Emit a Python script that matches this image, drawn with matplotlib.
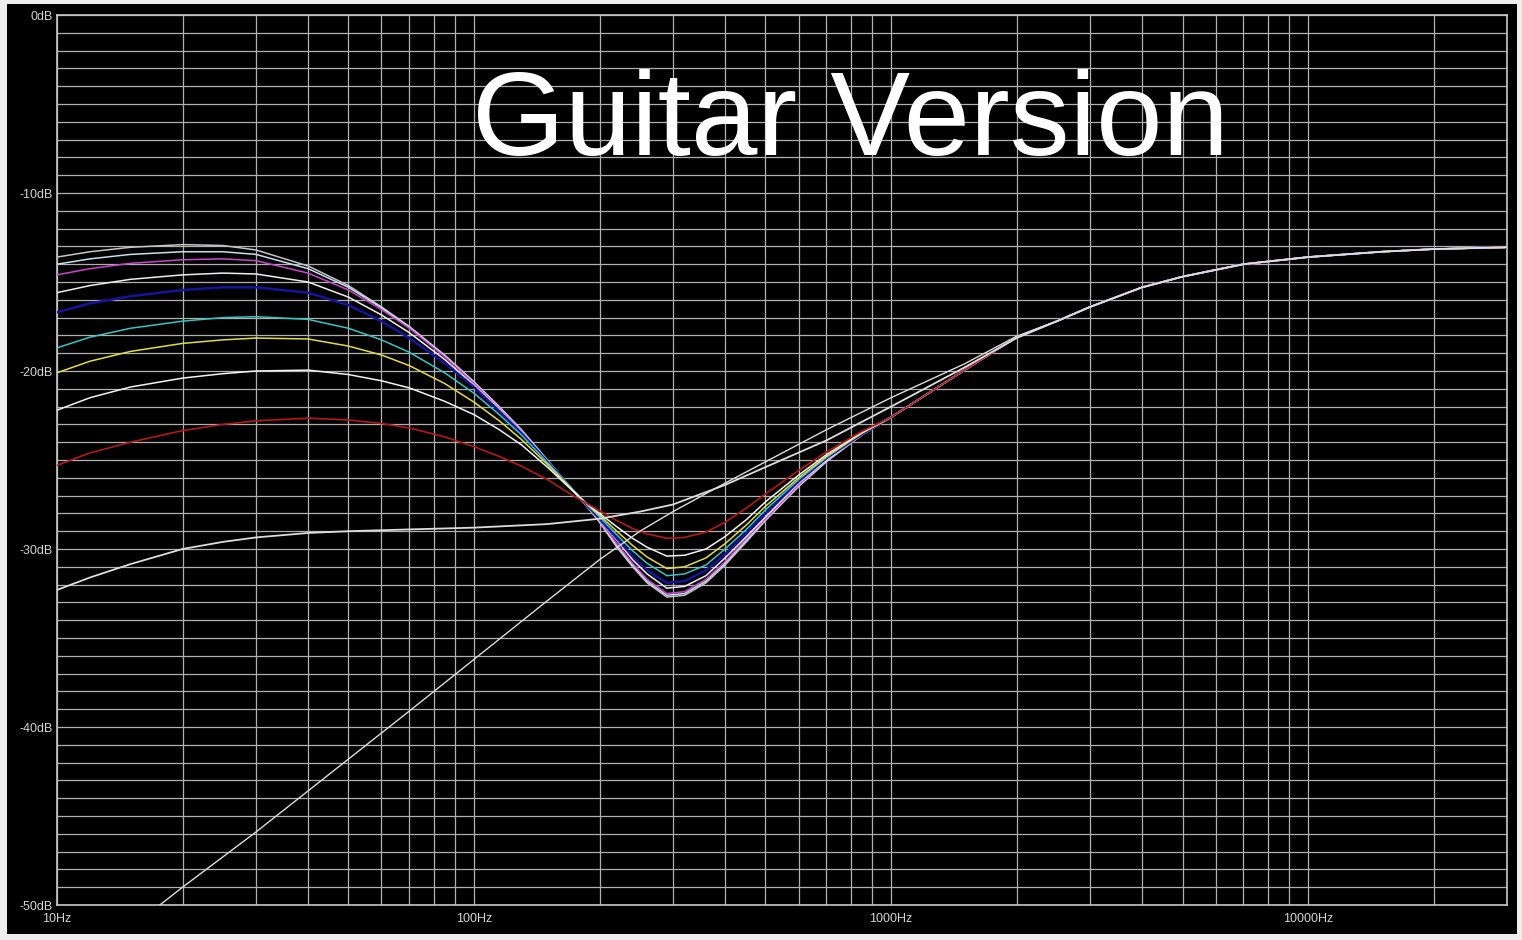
import matplotlib
matplotlib.use("Agg")
import matplotlib.pyplot as plt
from matplotlib.patches import Rectangle
from matplotlib.ticker import LogLocator, FixedLocator, NullFormatter

# frequency points (Hz), low/mid part of the pot sweep
freqs = [10, 12, 15, 20, 25, 30, 40, 50, 60, 70, 85, 100, 115, 130, 150, 170,
         185, 200, 220, 240, 260, 290, 320, 360, 400, 450, 500, 600, 700, 850]

# shared top end (1 kHz and up), all curves sit on it
high_freqs = [1000, 1500, 2000, 2500, 3000, 4000, 5000, 7000, 10000, 15000,
              20000, 30000]
high_db = [-22.6, -19.95, -18.1, -17.2, -16.4, -15.3, -14.7, -14.0, -13.6,
           -13.3, -13.15, -13.05]

sweep_grey = [-13.6, -13.3, -13.05, -12.9, -12.95, -13.2, -14.1, -15.2, -16.4, -17.5,
              -19.1, -20.6, -22.0, -23.3, -25.0, -26.5, -27.5, -28.5, -29.9, -31.0,
              -31.9, -32.7, -32.6, -31.9, -30.9, -29.6, -28.4, -26.5, -25.1, -23.6]
sweep_pale = [-14.0, -13.7, -13.45, -13.3, -13.3, -13.45, -14.25, -15.3, -16.45, -17.55,
              -19.15, -20.65, -22.05, -23.35, -25.05, -26.5, -27.5, -28.45, -29.8, -30.9,
              -31.8, -32.6, -32.5, -31.8, -30.8, -29.5, -28.35, -26.45, -25.05, -23.6]
sweep_magenta = [-14.6, -14.25, -13.95, -13.75, -13.7, -13.8, -14.5, -15.45, -16.55, -17.6,
                 -19.2, -20.7, -22.1, -23.4, -25.1, -26.5, -27.5, -28.4, -29.7, -30.8,
                 -31.7, -32.5, -32.4, -31.7, -30.7, -29.4, -28.3, -26.4, -25.0, -23.6]
sweep_white1 = [-15.6, -15.2, -14.85, -14.6, -14.5, -14.55, -15.0, -15.85, -16.85, -17.85,
                -19.35, -20.8, -22.15, -23.45, -25.1, -26.5, -27.5, -28.35, -29.5, -30.6,
                -31.4, -32.2, -32.1, -31.5, -30.5, -29.3, -28.2, -26.3, -25.0, -23.55]
sweep_blue = [-16.7, -16.2, -15.8, -15.45, -15.3, -15.3, -15.6, -16.3, -17.2, -18.15,
              -19.55, -20.9, -22.25, -23.5, -25.1, -26.5, -27.45, -28.3, -29.4, -30.4,
              -31.2, -31.9, -31.8, -31.2, -30.3, -29.1, -28.0, -26.2, -24.9, -23.55]
sweep_cyan = [-18.7, -18.1, -17.6, -17.2, -17.0, -16.95, -17.1, -17.6, -18.25, -18.95,
              -20.1, -21.25, -22.45, -23.6, -25.15, -26.5, -27.4, -28.2, -29.2, -30.1,
              -30.8, -31.5, -31.4, -30.9, -30.0, -28.9, -27.8, -26.1, -24.85, -23.5]
sweep_yellow = [-20.1, -19.45, -18.9, -18.45, -18.25, -18.15, -18.2, -18.6, -19.1, -19.7,
                -20.7, -21.75, -22.8, -23.85, -25.25, -26.55, -27.4, -28.1, -29.0, -29.8,
                -30.45, -31.1, -31.0, -30.5, -29.7, -28.65, -27.6, -26.0, -24.8, -23.5]
sweep_white2 = [-22.2, -21.5, -20.9, -20.4, -20.15, -20.0, -19.95, -20.2, -20.55, -20.95,
                -21.7, -22.45, -23.3, -24.15, -25.4, -26.6, -27.4, -28.0, -28.75, -29.4,
                -29.9, -30.4, -30.35, -30.0, -29.3, -28.35, -27.35, -25.85, -24.7, -23.45]
sweep_red = [-25.3, -24.6, -24.0, -23.35, -23.0, -22.8, -22.65, -22.75, -22.95, -23.2,
             -23.7, -24.25, -24.8, -25.35, -26.1, -26.9, -27.4, -27.85, -28.4, -28.85,
             -29.15, -29.4, -29.35, -29.05, -28.5, -27.7, -26.9, -25.6, -24.55, -23.4]

sweeps = [
    (sweep_grey, "#c4c4c4", 1.1),
    (sweep_pale, "#c4e0ea", 1.1),
    (sweep_magenta, "#cc44cc", 1.1),
    (sweep_white1, "#eeeeee", 1.1),
    (sweep_blue, "#14149c", 1.8),
    (sweep_cyan, "#36c4c4", 1.1),
    (sweep_yellow, "#e4dc44", 1.1),
    (sweep_white2, "#f2f2f2", 1.1),
    (sweep_red, "#b41818", 1.2),
]

# flat white curve (low end)
flat_freqs = [10, 12, 15, 20, 25, 30, 40, 50, 70, 100, 150, 200, 250, 300, 400,
              500, 700, 1000, 1500, 2000, 2500, 3000]
flat_db = [-32.3, -31.6, -30.85, -30.0, -29.6, -29.35, -29.1, -29.0, -28.9, -28.8,
           -28.6, -28.3, -27.9, -27.5, -26.4, -25.4, -23.9, -22.0, -19.8, -18.15,
           -17.2, -16.4]

# steep high-pass white curve
hp_freqs = [17, 20, 30, 50, 70, 100, 150, 200, 250, 300, 400, 500, 700, 1000,
            1500, 2000, 2500, 3000]
hp_db = [-50.3, -49.0, -45.9, -41.8, -39.1, -36.2, -32.9, -30.6, -29.0, -27.9,
         -26.3, -25.1, -23.3, -21.5, -19.6, -18.05, -17.2, -16.4]

y_ticks = [0, -10, -20, -30, -40, -50]
y_labels = ["0dB", "-10dB", "-20dB", "-30dB", "-40dB", "-50dB"]
x_ticks = [10, 100, 1000, 10000]
x_labels = ["10Hz", "100Hz", "1000Hz", "10000Hz"]

fig = plt.figure(figsize=(15.22, 9.40), dpi=100, facecolor="#eeeeee")
fig.patches.append(Rectangle((7 / 1522, 6 / 940), 1510 / 1522, 930 / 940,
                             transform=fig.transFigure, facecolor="black",
                             edgecolor="none", zorder=-5))

ax = fig.add_axes([57 / 1522, 35 / 940, 1450 / 1522, 890 / 940])
ax.set_zorder(2)
ax.set_facecolor("black")
ax.set_xscale("log")
ax.set_xlim(10, 30000)
ax.set_ylim(-50, 0)

grid_col = "#b0b0b0"
ax.xaxis.set_major_locator(FixedLocator(x_ticks))
ax.xaxis.set_minor_locator(LogLocator(base=10, subs=range(2, 10), numticks=20))
ax.xaxis.set_minor_formatter(NullFormatter())
ax.set_xticks(x_ticks)
ax.set_xticklabels(x_labels, family="Liberation Sans")
ax.set_yticks(y_ticks)
ax.set_yticklabels(y_labels, family="Liberation Sans")
ax.yaxis.set_minor_locator(FixedLocator(range(-49, 0)))
ax.grid(True, which="both", color=grid_col, linewidth=0.9)
ax.tick_params(which="both", length=0, colors="#d4d4d4", labelsize=9)
ax.tick_params(axis="x", pad=6)
ax.tick_params(axis="y", pad=3)
for s in ax.spines.values():
    s.set_color("#c8c8c8")
    s.set_linewidth(1.2)

for vals, col, lw in sweeps:
    ax.plot(freqs + high_freqs, vals + high_db, color=col, linewidth=lw, zorder=3)

ax.plot(flat_freqs + high_freqs[5:], flat_db + high_db[5:], color="#dcdcdc",
        linewidth=1.3, zorder=4)
ax.plot(hp_freqs + high_freqs[5:], hp_db + high_db[5:], color="#dcdcdc",
        linewidth=1.0, zorder=4)

ax.text(0.547, 0.843, "Guitar Version", transform=ax.transAxes,
        fontsize=86, color="white", family="Liberation Sans",
        ha="center", va="baseline", zorder=5)

fig.savefig("out.png", dpi=100, facecolor=fig.get_facecolor())
